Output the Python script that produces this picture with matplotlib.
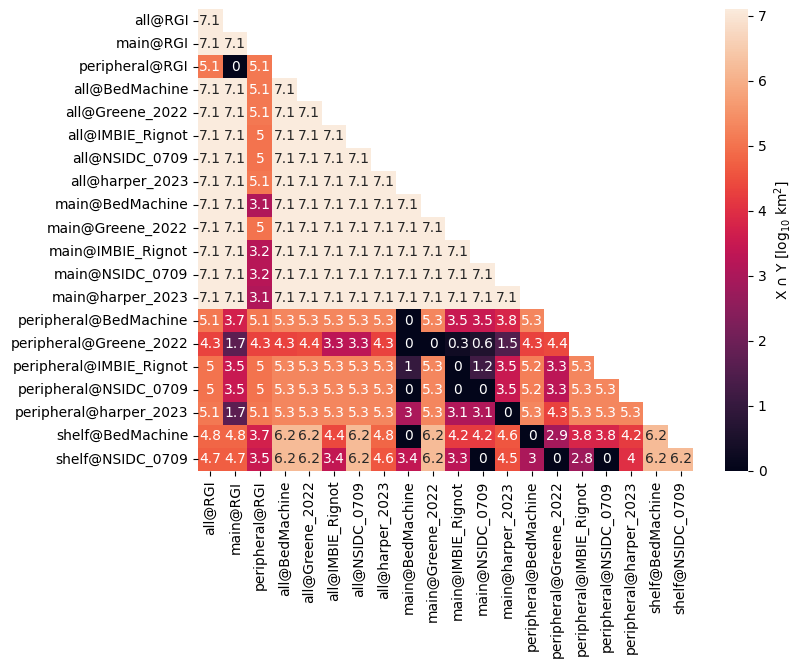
"""Lower-triangle heatmap of pairwise overlap areas (log10 km^2)."""
import numpy as np
import matplotlib
matplotlib.use("Agg")
import matplotlib.pyplot as plt
import seaborn as sns

labels = [
    "all@RGI", "main@RGI", "peripheral@RGI",
    "all@BedMachine", "all@Greene_2022", "all@IMBIE_Rignot", "all@NSIDC_0709", "all@harper_2023",
    "main@BedMachine", "main@Greene_2022", "main@IMBIE_Rignot", "main@NSIDC_0709", "main@harper_2023",
    "peripheral@BedMachine", "peripheral@Greene_2022", "peripheral@IMBIE_Rignot",
    "peripheral@NSIDC_0709", "peripheral@harper_2023",
    "shelf@BedMachine", "shelf@NSIDC_0709",
]

# lower triangle rows (incl. diagonal)
rows = [
    [7.1],
    [7.1, 7.1],
    [5.1, 0, 5.1],
    [7.1, 7.1, 5.1, 7.1],
    [7.1, 7.1, 5.1, 7.1, 7.1],
    [7.1, 7.1, 5.0, 7.1, 7.1, 7.1],
    [7.1, 7.1, 5.0, 7.1, 7.1, 7.1, 7.1],
    [7.1, 7.1, 5.1, 7.1, 7.1, 7.1, 7.1, 7.1],
    [7.1, 7.1, 3.1, 7.1, 7.1, 7.1, 7.1, 7.1, 7.1],
    [7.1, 7.1, 5.0, 7.1, 7.1, 7.1, 7.1, 7.1, 7.1, 7.1],
    [7.1, 7.1, 3.2, 7.1, 7.1, 7.1, 7.1, 7.1, 7.1, 7.1, 7.1],
    [7.1, 7.1, 3.2, 7.1, 7.1, 7.1, 7.1, 7.1, 7.1, 7.1, 7.1, 7.1],
    [7.1, 7.1, 3.1, 7.1, 7.1, 7.1, 7.1, 7.1, 7.1, 7.1, 7.1, 7.1, 7.1],
    [5.1, 3.7, 5.1, 5.3, 5.3, 5.3, 5.3, 5.3, 0, 5.3, 3.5, 3.5, 3.8, 5.3],
    [4.3, 1.7, 4.3, 4.3, 4.4, 3.3, 3.3, 4.3, 0, 0, 0.3, 0.6, 1.5, 4.3, 4.4],
    [5.0, 3.5, 5.0, 5.3, 5.3, 5.3, 5.3, 5.3, 1.0, 5.3, 0, 1.2, 3.5, 5.2, 3.3, 5.3],
    [5.0, 3.5, 5.0, 5.3, 5.3, 5.3, 5.3, 5.3, 0, 5.3, 0, 0, 3.5, 5.2, 3.3, 5.3, 5.3],
    [5.1, 1.7, 5.1, 5.3, 5.3, 5.3, 5.3, 5.3, 3.0, 5.3, 3.1, 3.1, 0, 5.3, 4.3, 5.3, 5.3, 5.3],
    [4.8, 4.8, 3.7, 6.2, 6.2, 4.4, 6.2, 4.8, 0, 6.2, 4.2, 4.2, 4.6, 0, 2.9, 3.8, 3.8, 4.2, 6.2],
    [4.7, 4.7, 3.5, 6.2, 6.2, 3.4, 6.2, 4.6, 3.4, 6.2, 3.3, 0, 4.5, 3.0, 0, 2.8, 0, 4.0, 6.2, 6.2],
]

n = len(labels)
mat = np.full((n, n), np.nan)
for i, r in enumerate(rows):
    mat[i, :len(r)] = r

fig = plt.figure(figsize=(8.03, 6.69), dpi=100)
ax = fig.add_axes([198 / 803, 198 / 669, 495 / 803, 462 / 669])
cax = fig.add_axes([725 / 803, 198 / 669, 23 / 803, 462 / 669])

sns.heatmap(mat, ax=ax, cbar_ax=cax, annot=True, cmap="rocket",
            xticklabels=labels, yticklabels=labels,
            cbar_kws={"label": r"X ∩ Y [log$_{10}$ km$^2$]"})

fig.savefig("out.png", dpi=100)
